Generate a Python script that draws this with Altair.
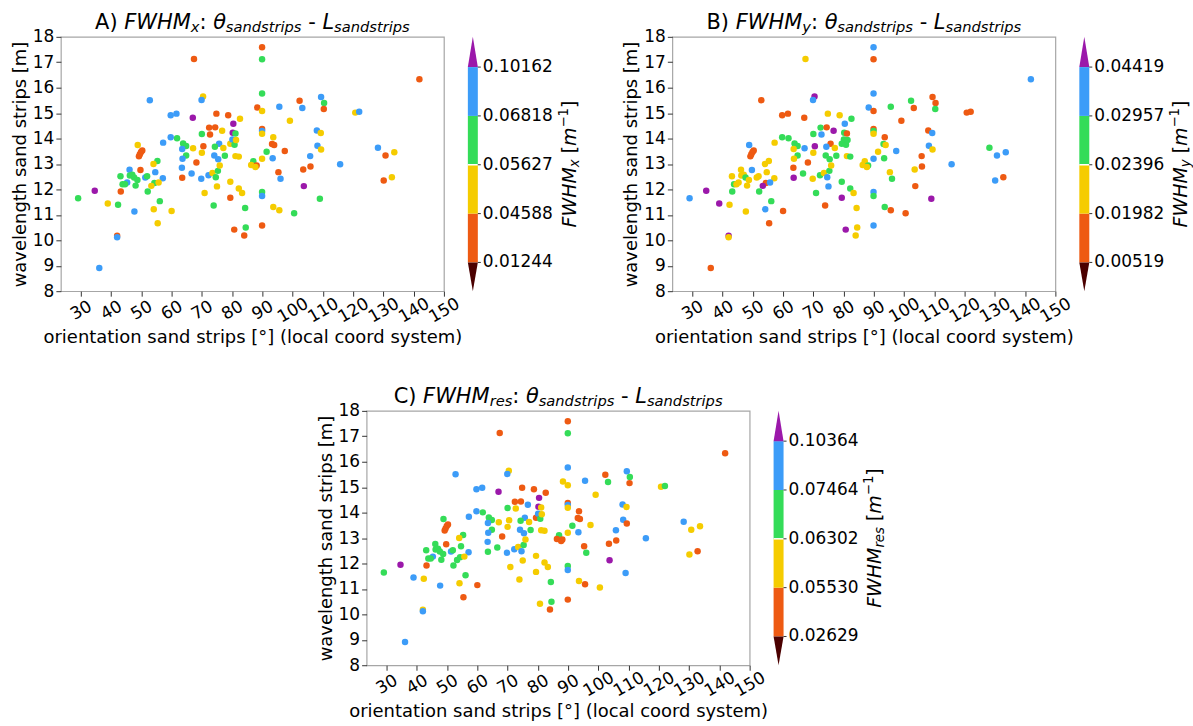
import altair as alt
import pandas as pd

# ---------------- data ----------------
ORIENT = [67.4, 52.8, 70.4, 69.9, 59.7, 61.6, 67.0, 74.8, 78.7, 82.6,
          72.4, 74.4, 76.7, 80.4, 72.7, 70.0, 80.2, 81.1, 59.7, 61.8,
          57.2, 48.8, 63.8, 64.8, 63.5, 67.1, 70.5, 70.0, 75.7, 74.3,
          77.1, 79.4, 80.1, 80.8, 81.3, 49.2, 49.5, 49.9, 50.3, 64.8,
          63.6, 68.2, 74.1, 75.4, 77.6, 81.1, 82.2, 87.0, 86.3, 88.1,
          87.7, 55.3, 54.0, 46.1, 49.7, 54.6, 43.1, 46.2, 47.0, 47.6,
          48.7, 45.3, 43.8, 44.6, 48.1, 51.3, 51.9, 57.1, 63.5, 63.4,
          66.6, 69.8, 72.2, 73.5, 74.6, 75.3, 75.9, 54.3, 55.7, 53.3,
          52.1, 43.2, 34.6, 29.1, 38.9, 42.3, 47.7, 54.1, 56.1, 60.0,
          55.4, 70.9, 75.0, 73.9, 79.4, 79.4, 82.2, 83.3, 84.3, 80.7,
          84.5, 84.0, 42.0, 42.0, 36.1, 89.9, 89.9, 89.9, 88.3, 89.9,
          95.6, 102.3, 103.2, 109.4, 110.4, 110.3, 99.1, 120.7, 122.0, 141.9,
          89.9, 89.9, 89.9, 93.6, 93.2, 93.9, 91.4, 97.4, 89.9, 93.4,
          108.0, 109.3, 108.2, 109.4, 105.8, 105.9, 103.5, 95.3, 96.0, 115.7,
          128.2, 130.7, 133.6, 130.1, 132.8, 103.7, 89.9, 89.9, 109.0, 93.6,
          95.6, 100.5, 89.9]

WAVELEN = [17.13, 15.51, 15.65, 15.52, 14.92, 14.98, 14.82, 14.98, 14.92, 14.78,
           14.43, 14.44, 14.31, 14.58, 14.16, 14.18, 14.23, 14.20, 14.05, 14.01,
           13.84, 13.75, 13.81, 13.71, 13.59, 13.62, 13.70, 13.44, 13.80, 13.68,
           13.63, 13.80, 13.96, 13.76, 13.94, 13.30, 13.38, 13.47, 13.53, 13.33,
           13.21, 13.06, 13.33, 13.19, 13.32, 13.31, 13.29, 13.11, 12.96, 12.94,
           12.88, 13.12, 13.00, 12.77, 12.76, 12.68, 12.52, 12.55, 12.58, 12.47,
           12.37, 12.27, 12.20, 12.20, 12.15, 12.47, 12.52, 12.44, 12.46, 12.85,
           12.63, 12.42, 12.56, 12.65, 12.48, 12.73, 12.94, 12.25, 12.27, 12.14,
           11.92, 11.92, 11.95, 11.65, 11.45, 11.40, 11.13, 11.22, 11.54, 11.15,
           10.67, 11.86, 12.12, 11.37, 12.30, 11.67, 12.04, 11.86, 11.27, 10.42,
           10.50, 10.19, 10.18, 10.12, 8.91, 17.59, 17.12, 15.77, 15.22, 15.08,
           15.25, 15.49, 15.20, 15.63, 15.40, 15.16, 14.70, 15.02, 15.05, 16.33,
           14.38, 14.30, 14.19, 14.05, 13.79, 13.75, 13.48, 13.51, 13.21, 13.23,
           14.32, 14.22, 13.72, 13.57, 13.31, 12.90, 12.78, 12.68, 12.42, 12.99,
           13.64, 13.33, 13.46, 12.35, 12.48, 12.13, 11.90, 11.74, 11.63, 11.31,
           11.18, 11.06, 10.58]

# colour class of every point in each panel (o<y<g<b<p : bin index)
CLASS_A = list("obybbbpooy" "ooypogpgbg" "byggbyoybg" "yybgyoooog" "bobbgyygyo"
               "ygybobgggg" "gbgggbgbob" "bbbyggygyy" "gopgygbygy" "yyygyoyygo"
               "goobboggoy" "bobbgoyybo" "obyyoogoyb" "bybybooobb" "boyoypgbgy" "ygo")
CLASS_B = list("yopboooyyg" "gopbbggogg" "ybggybpyob" "yggggoooog" "yogggygyyg"
               "yyyybyyyyg" "yygyyyyypo" "gygybgyobp" "ggpbpyybgo" "ogbogpgyyp"
               "yypyobobbo" "ggooogooob" "ogyogyybbg" "obbyooyygb" "gbbboobgpg" "oob")
CLASS_C = list("obybbbpooo" "oobpygpybg" "bgggbyyybg" "yobgyoooog" "bobbgyygoo"
               "ogygoggggg" "gbgggbgbgb" "gbbybgygyg" "gopgbybygo" "oyyyyyyygy"
               "goybbogbyy" "bogbgoyygo" "obyooogyyb" "bybobooogb" "byyyopgbby" "oyo")

TICKS_A = ["0.01244", "0.04588", "0.05627", "0.06818", "0.10162"]
TICKS_B = ["0.00519", "0.01982", "0.02396", "0.02957", "0.04419"]
TICKS_C = ["0.02629", "0.05530", "0.06302", "0.07464", "0.10364"]

X_TICKS = list(range(30, 151, 10))
Y_TICKS = list(range(8, 19))

CODES = ["o", "y", "g", "b", "p"]
COLORS = ["#EE5A12", "#F5CC00", "#34DC58", "#3C9CF8", "#9B18AA"]
UNDER = "#4B0000"
OVER = "#9B18AA"

# ---------------- layout constants ----------------
W, H = 384, 255
FONT = "DejaVu Sans"
CB_X0, CB_W = 408, 10
CB_EDGES = [9.13, 11.05, 12.97, 14.89, 16.81]   # colour-bar bin edges in y units
Y_MIN, Y_MAX = 8, 18

GLYPH = {'A': .684, 'B': .686, 'C': .698, ')': .390, ' ': .318, 'F': .575, 'W': .989,
         'H': .752, 'M': .863, 'x': .592, 'y': .592, 'r': .411, 'e': .615, 's': .521,
         ':': .337, 'θ': .602, 'a': .613, 'n': .634, 'd': .635, 't': .392, 'i': .278,
         'p': .635, '-': .361, 'L': .557, '[': .390, ']': .390, 'm': .974, '−': .838,
         '1': .636}


def tw(s, size):
    return sum(GLYPH.get(c, .6) for c in s) * size


def piece(t, italic, size, x, y, angle):
    return alt.Chart(pd.DataFrame({"t": [t]})).mark_text(
        align="left", baseline="alphabetic", font=FONT, fontSize=size,
        fontStyle="italic" if italic else "normal", angle=angle, color="black"
    ).encode(text="t:N", x=alt.value(x), y=alt.value(y))


def rich(pieces, size, center, base, angle=0):
    total = sum(tw(t, size * sc) for t, _, sc, _ in pieces)
    out = []
    cur = center - total / 2 if angle == 0 else center + total / 2
    for t, it, sc, sh in pieces:
        fs = size * sc
        lead = tw(t[:len(t) - len(t.lstrip())], fs)
        if angle == 0:
            out.append(piece(t.strip(), it, fs, cur + lead, base + sh * size, 0))
            cur += tw(t, fs)
        else:
            out.append(piece(t.strip(), it, fs, base + sh * size, cur - lead, 270))
            cur -= tw(t, fs)
    return out


def panel(letter, sub, classes, ticks):
    df = pd.DataFrame({"x": ORIENT, "y": WAVELEN, "c": classes})
    xs = alt.Scale(domain=[23.4, 150], nice=False, zero=False)
    ys = alt.Scale(domain=[Y_MIN, Y_MAX], nice=False, zero=False)
    cs = alt.Scale(domain=CODES, range=COLORS)
    xaxis = alt.Axis(values=X_TICKS, labelAngle=-30, labelAlign="center",
                     labelBaseline="middle", labelPadding=14, labelOverlap=False,
                     labelFlush=False, tickSize=5,
                     title="orientation sand strips [°] (local coord system)",
                     titlePadding=3)
    yaxis = alt.Axis(values=Y_TICKS, tickSize=5, labelPadding=2, labelOverlap=False,
                     labelFlush=False, title="wavelength sand strips [m]", titlePadding=3)

    scatter = alt.Chart(df).mark_circle(size=42, opacity=1).encode(
        x=alt.X("x:Q", scale=xs, axis=xaxis),
        y=alt.Y("y:Q", scale=ys, axis=yaxis),
        color=alt.Color("c:N", scale=cs, legend=None),
    )

    bins = pd.DataFrame({"lo": CB_EDGES[:-1], "hi": CB_EDGES[1:], "c": CODES[:4]})
    bar = alt.Chart(bins).mark_rect().encode(
        x=alt.value(CB_X0), x2=alt.value(CB_X0 + CB_W),
        y=alt.Y("lo:Q", scale=ys, axis=yaxis), y2="hi:Q",
        color=alt.Color("c:N", scale=cs, legend=None),
    )
    up_h = (Y_MAX - CB_EDGES[-1]) * H / (Y_MAX - Y_MIN) / (CB_W / 2)
    dn_h = (CB_EDGES[0] - Y_MIN) * H / (Y_MAX - Y_MIN) / (CB_W / 2)
    tri_up = alt.Chart(pd.DataFrame({"lo": [CB_EDGES[-1]]})).mark_point(
        shape=f"M-1,0L1,0L0,{-up_h:.3f}Z", filled=True, size=CB_W ** 2,
        opacity=1, strokeWidth=0, color=OVER
    ).encode(x=alt.value(CB_X0 + CB_W / 2), y=alt.Y("lo:Q", scale=ys, axis=yaxis))
    tri_dn = alt.Chart(pd.DataFrame({"lo": [CB_EDGES[0]]})).mark_point(
        shape=f"M-1,0L1,0L0,{dn_h:.3f}Z", filled=True, size=CB_W ** 2,
        opacity=1, strokeWidth=0, color=UNDER
    ).encode(x=alt.value(CB_X0 + CB_W / 2), y=alt.Y("lo:Q", scale=ys, axis=yaxis))
    sep = alt.Chart(pd.DataFrame({"lo": [CB_EDGES[2]]})).mark_rule(
        color="white", strokeWidth=1.5
    ).encode(x=alt.value(CB_X0), x2=alt.value(CB_X0 + CB_W),
             y=alt.Y("lo:Q", scale=ys, axis=yaxis))
    tdf = pd.DataFrame({"lo": CB_EDGES, "t": ticks})
    tks = alt.Chart(tdf).mark_rule(color="#333333", strokeWidth=1).encode(
        x=alt.value(CB_X0 + CB_W), x2=alt.value(CB_X0 + CB_W + 3),
        y=alt.Y("lo:Q", scale=ys, axis=yaxis))
    lbl = alt.Chart(tdf).mark_text(align="left", baseline="middle", font=FONT,
                                    fontSize=17, color="black").encode(
        x=alt.value(CB_X0 + CB_W + 5), y=alt.Y("lo:Q", scale=ys, axis=yaxis), text="t:N")

    sh = 0.16
    title = rich([(f"{letter}) ", False, 1, 0), ("FWHM", True, 1, 0), (sub, True, .7, sh),
                  (": ", False, 1, 0), ("θ", True, 1, 0), ("sandstrips", True, .7, sh),
                  (" - ", False, 1, 0), ("L", True, 1, 0), ("sandstrips", True, .7, sh)],
                 21, W / 2, -8)
    cbt = rich([("FWHM", True, 1, 0), (sub, True, .7, sh), (" [", False, 1, 0),
                ("m", True, 1, 0), ("−1", False, .7, -0.42), ("]", False, 1, 0)],
               19, H / 2, 516, angle=270)

    return alt.layer(scatter, bar, tri_up, tri_dn, sep, tks, lbl, *title, *cbt).properties(
        width=W, height=H)


pA = panel("A", "x", CLASS_A, TICKS_A)
pB = panel("B", "y", CLASS_B, TICKS_B)
pC = panel("C", "res", CLASS_C, TICKS_C)

top = alt.hconcat(pA, pB, spacing=40)
chart = alt.vconcat(top, pC, spacing=38, center=True).properties(
    padding={"left": 10, "top": 10, "right": 0, "bottom": 0}
).configure(font=FONT).configure_view(
    stroke="#a6a6a6", strokeWidth=1.2
).configure_axis(
    grid=False, domain=False, labelFont=FONT, labelFontSize=17, labelColor="black",
    titleFont=FONT, titleFontSize=18, titleFontWeight="normal", titleColor="black",
    tickColor="#333333", tickWidth=1
)

chart.save("out.html", embed_options={"renderer": "svg", "actions": False})
